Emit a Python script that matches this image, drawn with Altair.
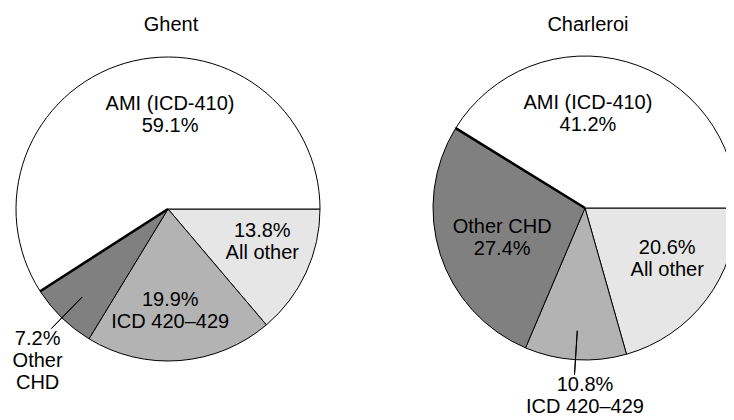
import math
import altair as alt
import pandas as pd

# ---- data ----
cities = ["Ghent", "Charleroi"]
categories = ["All other", "ICD 420–429", "Other CHD", "AMI (ICD-410)"]
ghent_values = [13.8, 19.9, 7.2, 59.1]
charleroi_values = [20.6, 10.8, 27.4, 41.2]
ghent_labels = ["13.8%\nAll other", "19.9%\nICD 420–429", "7.2%\nOther\nCHD", "AMI (ICD-410)\n59.1%"]
charleroi_labels = ["20.6%\nAll other", "10.8%\nICD 420–429", "Other CHD\n27.4%", "AMI (ICD-410)\n41.2%"]
fills = ["#e6e6e6", "#b3b3b3", "#808080", "#ffffff"]

# ---- layout (styles / placement) ----
centers = {"Ghent": (160, 201), "Charleroi": (577, 200)}
title_pos = {"Ghent": (163, 23), "Charleroi": (580, 23)}
label_shift = {"Ghent": [-1.5, 0.9, -1.0, 4.9], "Charleroi": [-1.4, -1.0, -0.6, -3.9]}
label_r = {"Ghent": [100, 102, 200, 94], "Charleroi": [97, 188, 88, 94]}
leader_cat = {"Ghent": "Other CHD", "Charleroi": "ICD 420–429"}
PIE_R = 152
FONT = "Liberation Sans"
LABEL_SIZE = 20
LINE_H = 22

values = {"Ghent": ghent_values, "Charleroi": charleroi_values}
labels = {"Ghent": ghent_labels, "Charleroi": charleroi_labels}

theta_scale = alt.Scale(domain=[0, 100], range=[math.pi / 2, math.pi / 2 + 2 * math.pi])


def city_layers(city):
    vals = values[city]
    ends = pd.Series(vals).cumsum()
    starts = ends - pd.Series(vals)
    df = pd.DataFrame({
        "category": categories,
        "value": vals,
        "start": starts,
        "end": ends,
        "fill": fills,
        "label": labels[city],
    })
    df["mid"] = (df["start"] + df["end"]) / 2
    df["label_theta"] = df["mid"] + pd.Series(label_shift[city])
    df["label_r"] = label_r[city]
    df["nlines"] = df["label"].str.count("\n") + 1

    cx, cy = centers[city]
    base = alt.Chart(df)
    xy = dict(x=alt.value(cx), y=alt.value(cy))

    arcs = base.mark_arc(radius=PIE_R, stroke="black", strokeWidth=1).encode(
        theta=alt.Theta("start:Q", scale=theta_scale),
        theta2="end:Q",
        fill=alt.Fill("fill:N", scale=None),
        **xy,
    )
    bold = base.transform_filter(alt.datum.category == "AMI (ICD-410)").mark_arc(
        radius=PIE_R, stroke="black", strokeWidth=2.6, fillOpacity=0, strokeCap="butt"
    ).encode(
        theta=alt.Theta("start:Q", scale=theta_scale),
        theta2="start:Q",
        **xy,
    )
    leader = base.transform_filter(alt.datum.category == leader_cat[city]).mark_arc(
        radius=167, radius2=123, stroke="black", strokeWidth=1, fillOpacity=0
    ).encode(
        theta=alt.Theta("mid:Q", scale=theta_scale),
        theta2="mid:Q",
        **xy,
    )
    texts = []
    for n in sorted(df["nlines"].unique()):
        texts.append(
            base.transform_filter(alt.datum.nlines == int(n)).mark_text(
                font=FONT, fontSize=LABEL_SIZE, lineBreak="\n", lineHeight=LINE_H,
                align="center", baseline="middle", color="black",
                dy=-(int(n) - 1) * LINE_H / 2,
            ).encode(
                theta=alt.Theta("label_theta:Q", scale=theta_scale),
                radius=alt.Radius("label_r:Q", scale=None),
                text="label:N",
                **xy,
            )
        )
    tx, ty = title_pos[city]
    title = alt.Chart(pd.DataFrame({"city": [city]})).mark_text(
        font=FONT, fontSize=20, align="center", baseline="alphabetic", color="black"
    ).encode(text="city:N", x=alt.value(tx), y=alt.value(ty))
    return [arcs, bold, leader] + texts + [title]


layers = []
for c in cities:
    layers += city_layers(c)

chart = alt.layer(*layers).properties(
    width=718, height=412, padding=0,
    autosize=alt.AutoSizeParams(type="none"),
).configure_view(stroke=None)

chart.save("out.html", embed_options={"renderer": "svg", "actions": False})
